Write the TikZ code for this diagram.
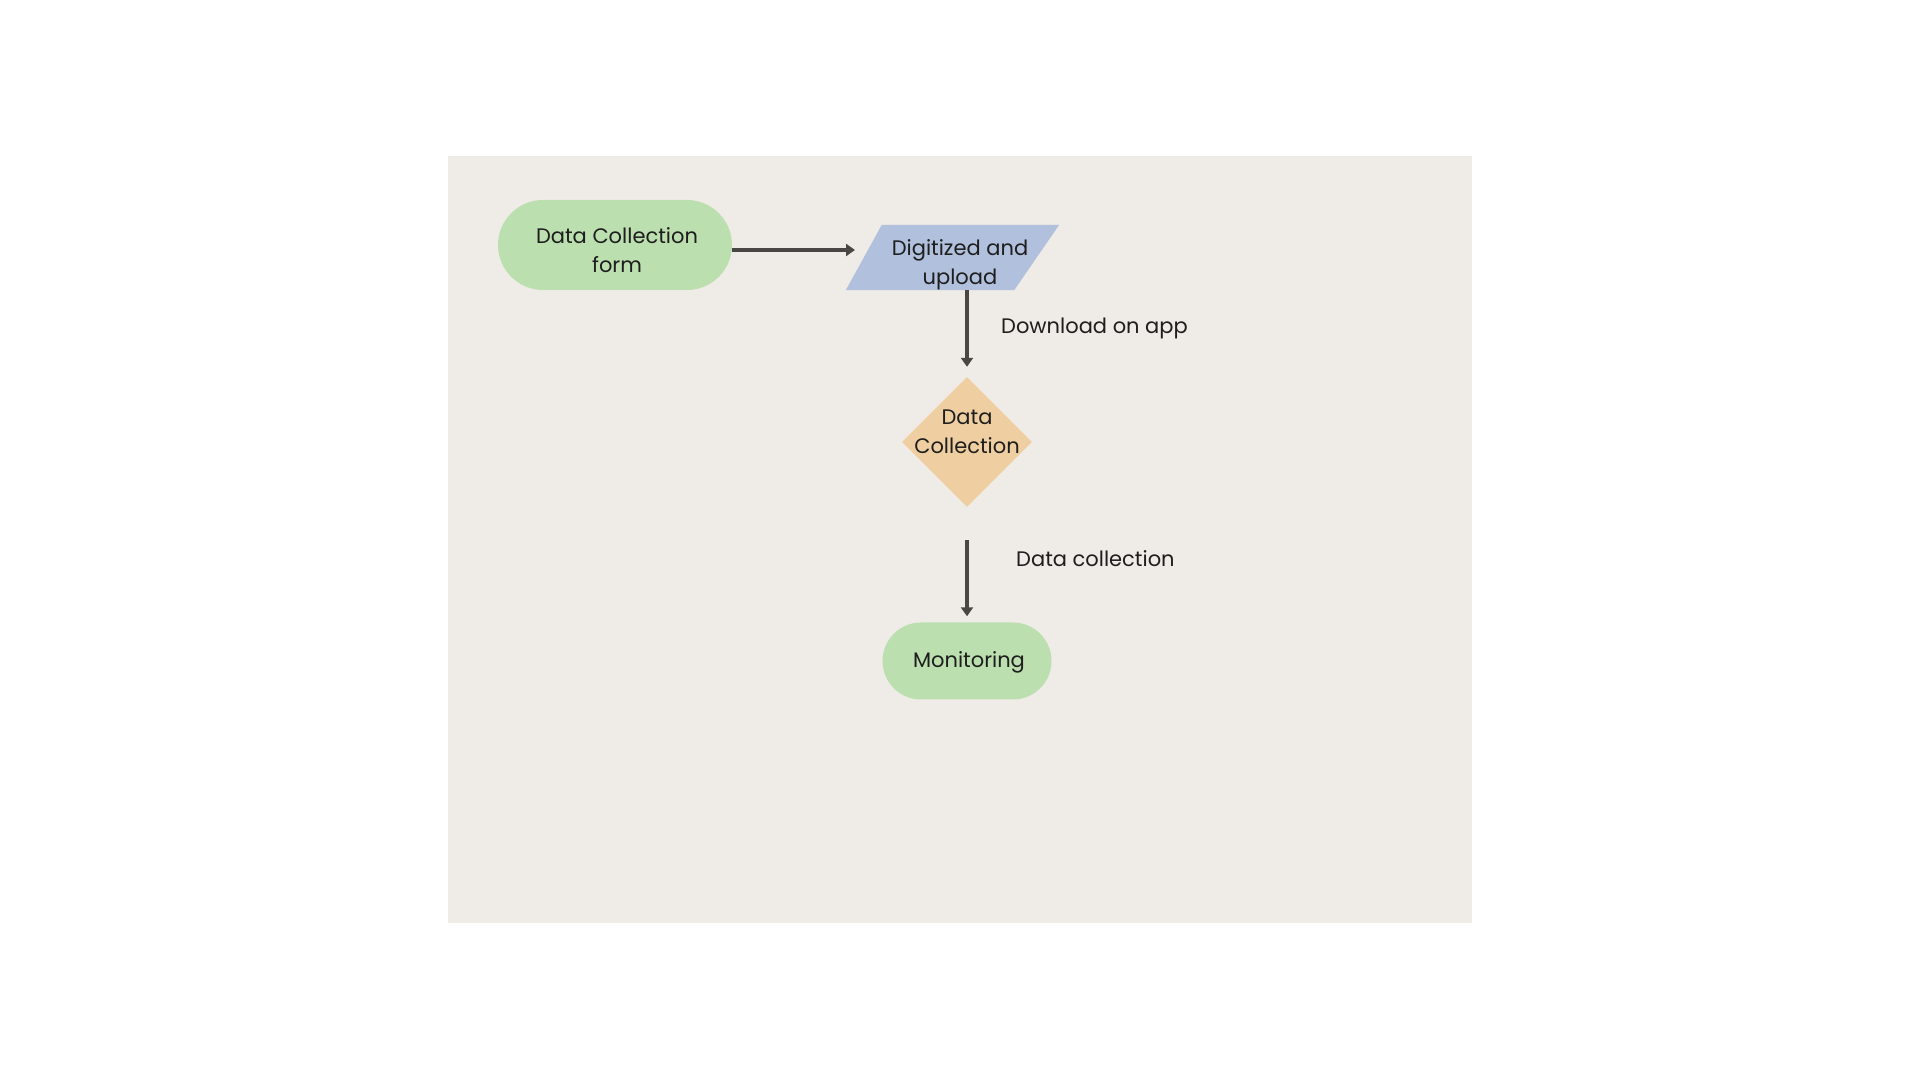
\documentclass[tikz,border=0pt]{standalone}
\usepackage{fontspec}
\setmainfont{Poppins}
\usetikzlibrary{shapes.geometric,shapes.misc,arrows.meta,calc}
\definecolor{bgc}{HTML}{EFEBE6}
\definecolor{greenc}{HTML}{BCDFB0}
\definecolor{bluec}{HTML}{B1C0DC}
\definecolor{orangec}{HTML}{EFCFA1}
\definecolor{arrc}{HTML}{4A4644}
\definecolor{txtc}{HTML}{1E1E1E}
\tikzset{
  lbl/.style={font=\fontsize{21}{29}\selectfont, text=txtc, align=center, inner sep=0pt},
  term/.style={lbl, fill=greenc, rounded rectangle, draw=none},
  dia/.style={fill=orangec, diamond, inner sep=2pt},
  arr/.style={draw=arrc, line width=3.4pt, -{Triangle[length=9pt,width=12pt]}},
  elabel/.style={lbl, anchor=west}
}
\begin{document}
\begin{tikzpicture}[x=1pt,y=1pt]
\useasboundingbox (0,0) rectangle (1920,1080);
\fill[white] (0,0) rectangle (1920,1080);
\fill[bgc] (448,157) rectangle (1472,924);
\node[term, minimum width=234pt, minimum height=90pt] (t1) at (615,835) {};
\node[lbl] (t1txt) at (617,830) {Data Collection\\form};
\node[lbl, minimum width=213pt, minimum height=65pt] (p) at (952.5,822.5) {};
\fill[bluec] (p.south west) -- ($(p.south east)+(-45,0)$) -- (p.north east) -- ($(p.north west)+(36,0)$) -- cycle;
\node[lbl] (ptxt) at (960,815) {Digitized and\\upload};
\node[dia, minimum width=130pt, minimum height=130pt] (d) at (967,638) {};
\node[lbl] (dtxt) at (967,648) {Data\\Collection};
\node[term, minimum width=169pt, minimum height=77pt] (m) at (967,419) {};
\node[lbl] (mtxt) at (969,418) {Monitoring};
\coordinate (a1e) at (855,830);
\draw[arr] (t1.east |- a1e) -- (a1e);
\draw[arr, shorten >=10pt] (p.south -| d.north) -- (d.north);
\draw[arr, shorten <=33pt, shorten >=6pt] (d.south) -- (m.north -| d.south);
\node[elabel] (l1) at (1001,752) {Download on app};
\node[elabel] (l2) at (1016,521) {Data collection};
\end{tikzpicture}
\end{document}
